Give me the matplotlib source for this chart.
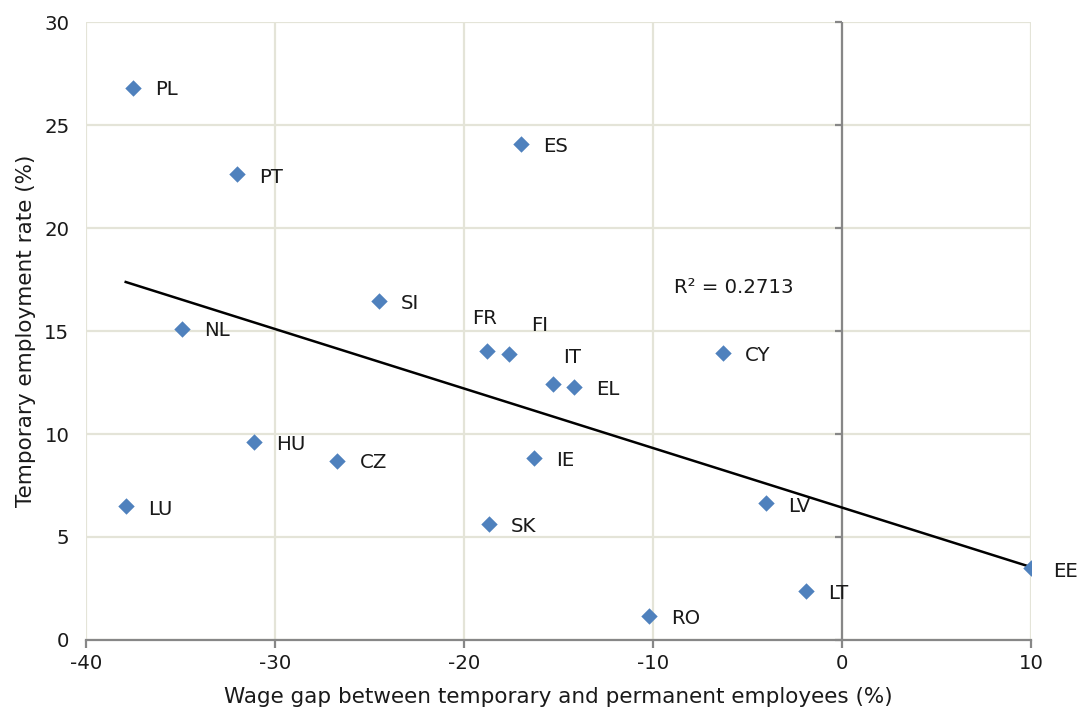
import numpy as np
import matplotlib
matplotlib.use("Agg")
import matplotlib.pyplot as plt

countries = ["PL", "PT", "ES", "SI", "NL", "FR", "FI", "IT", "EL", "CY",
             "HU", "CZ", "IE", "LU", "SK", "LV", "EE", "LT", "RO"]
wage_gap = [-37.5, -32.0, -17.0, -24.5, -34.9, -18.8, -17.6, -15.3, -14.2, -6.3,
            -31.1, -26.7, -16.3, -37.9, -18.7, -4.0, 10.0, -1.9, -10.2]
temp_rate = [26.8, 22.6, 24.1, 16.45, 15.1, 14.05, 13.9, 12.45, 12.3, 13.95,
             9.6, 8.7, 8.85, 6.5, 5.65, 6.65, 3.5, 2.4, 1.15]
# label offsets in pixels (dx, dy) relative to the point
label_dx = [22, 22, 22, 22, 22, -2, 30, 19, 22, 22, 22, 22, 22, 22, 22, 22, 22, 22, 22]
label_dy = [-2, -3, -3, -2, -2, 32, 28, 26, -3, -3, -2, -2, -3, -3, -3, -3, -4, -3, -2]
label_ha = ["left"] * 5 + ["center", "center", "center"] + ["left"] * 11

xticks = [-40, -30, -20, -10, 0, 10]
yticks = [0, 5, 10, 15, 20, 25, 30]

plt.rcParams['font.family'] = ['DejaVu Sans']
plt.rcParams['axes.unicode_minus'] = False
FS = 14.2
FS_AX = 15.5
TXT = "#1a1a1a"
fig = plt.figure(figsize=(10.78, 7.13), dpi=100)
ax = fig.add_axes([0.0798, 0.1024, 0.8766, 0.8667])

grid_c = "#E4E4D8"
axis_c = "#878787"
ax.set_xlim(-40, 10)
ax.set_ylim(0, 30)
ax.set_xticks(xticks)
ax.set_yticks(yticks)
ax.grid(True, color=grid_c, linewidth=1.6, zorder=0)
for s in ["top", "right", "left"]:
    ax.spines[s].set_visible(False)
ax.spines["bottom"].set_color(axis_c)
ax.spines["bottom"].set_linewidth(1.6)
ax.spines["bottom"].set_zorder(3)
ax.tick_params(axis="x", direction="out", length=6, width=1.6, color=axis_c,
               labelsize=FS, pad=4, labelcolor=TXT)
ax.tick_params(axis="y", length=0, labelsize=FS, pad=12, labelcolor=TXT)
# vertical axis line at x=0 with small tick marks to the left
ax.axvline(0, color=axis_c, linewidth=1.6, zorder=2)
ax.plot([0] * len(yticks), yticks, linestyle="none", marker=0, markersize=5,
        markeredgewidth=1.6, color=axis_c, clip_on=False, zorder=2)

x = np.array(wage_gap)
y = np.array(temp_rate)
ax.scatter(x, y, marker="D", s=70, color="#4F81BD", zorder=4, linewidths=0)

# linear trend
coef = np.polyfit(x, y, 1)
xs = np.array([x.min(), x.max()])
ax.plot(xs, np.polyval(coef, xs), color="black", linewidth=1.8, zorder=3)

for c, xi, yi, dx, dy, ha in zip(countries, x, y, label_dx, label_dy, label_ha):
    ax.annotate(c, (xi, yi), xytext=(dx, dy), textcoords="offset pixels",
                ha=ha, va="center", fontsize=FS, color=TXT, zorder=5)

ax.text(-8.9, 17.1, "R² = 0.2713", fontsize=FS, color=TXT, ha="left", va="center")

ax.set_xlabel("Wage gap between temporary and permanent employees (%)",
              fontsize=FS_AX, color=TXT, labelpad=10)
ax.set_ylabel("Temporary employment rate (%)", fontsize=FS_AX, color=TXT, labelpad=6)

fig.savefig("out.png", dpi=100)
